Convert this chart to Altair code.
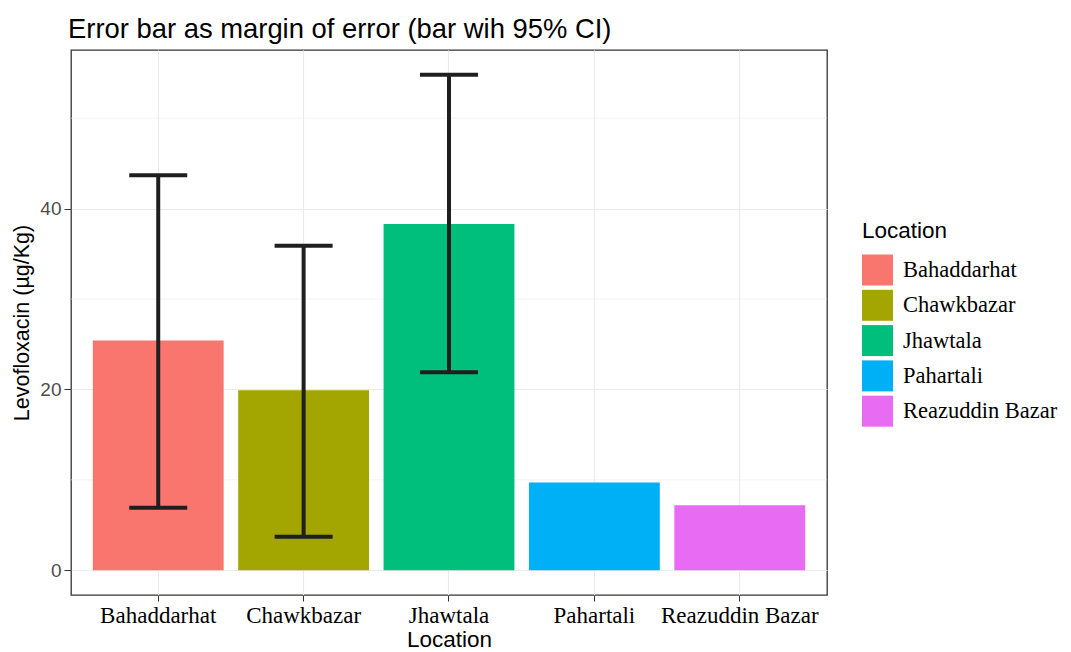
import altair as alt
import pandas as pd

locations = ["Bahaddarhat", "Chawkbazar", "Jhawtala", "Pahartali", "Reazuddin Bazar"]
means = [25.4, 19.9, 38.3, 9.7, 7.2]
err_locations = ["Bahaddarhat", "Chawkbazar", "Jhawtala"]
err_lower = [6.9, 3.7, 21.9]
err_upper = [43.7, 35.9, 54.8]
colors = ["#F8766D", "#A3A500", "#00BF7D", "#00B0F6", "#E76BF3"]
minor_grid = [10, 30, 50]
major_ticks = [0, 20, 40]

bars_df = pd.DataFrame({"Location": locations, "value": means})
err_df = pd.DataFrame({"Location": err_locations, "lower": err_lower, "upper": err_upper})
minor_df = pd.DataFrame({"v": minor_grid})

SANS = "Liberation Sans"
SERIF = "Liberation Serif"

x_scale = alt.Scale(domain=locations, paddingInner=0.1, paddingOuter=0.15)
y_scale = alt.Scale(domain=[-2.74, 57.54], nice=False, zero=False)

x_axis = alt.Axis(
    title="Location", labelAngle=0, labelFont=SERIF, labelFontSize=23,
    labelColor="black", labelPadding=3, tickColor="#333333", tickSize=6,
    domain=False, grid=True, gridColor="#EBEBEB", gridWidth=1.1,
    titleFont=SANS, titleFontSize=22.5, titleFontWeight="normal",
    titleColor="black", titlePadding=1,
)
y_axis = alt.Axis(
    title="Levofloxacin (µg/Kg)", values=major_ticks, labelFont=SANS,
    labelFontSize=19, labelColor="#4D4D4D", labelPadding=3,
    tickColor="#333333", tickSize=7, domain=False, grid=True,
    gridColor="#EBEBEB", gridWidth=1.1, titleFont=SANS, titleFontSize=21.5,
    titleFontWeight="normal", titleColor="black", titlePadding=6,
)

minor = alt.Chart(minor_df).mark_rule(color="#EBEBEB", strokeWidth=0.6).encode(
    y=alt.Y("v:Q", scale=y_scale, axis=y_axis)
)

bars = alt.Chart(bars_df).mark_bar().encode(
    x=alt.X("Location:N", scale=x_scale, axis=x_axis),
    y=alt.Y("value:Q", scale=y_scale, axis=y_axis),
    color=alt.Color(
        "Location:N",
        scale=alt.Scale(domain=locations, range=colors),
        legend=alt.Legend(
            title="Location", orient="none", legendX=791, legendY=170,
            symbolType="square", symbolSize=961, symbolStrokeWidth=0,
            symbolOpacity=1, rowPadding=4.3, labelFont=SERIF,
            labelFontSize=22.5, labelColor="black", labelOffset=10,
            titleFont=SANS, titleFontSize=22.5, titleFontWeight="normal",
            titleColor="black", titlePadding=12,
        ),
    ),
)

err_color = "#1F1F1F"
rule = alt.Chart(err_df).mark_rule(color=err_color, strokeWidth=4).encode(
    x=alt.X("Location:N", scale=x_scale),
    y=alt.Y("lower:Q", scale=y_scale),
    y2="upper:Q",
)
cap_lo = alt.Chart(err_df).mark_tick(color=err_color, thickness=4, size=58, opacity=1).encode(
    x=alt.X("Location:N", scale=x_scale),
    y=alt.Y("lower:Q", scale=y_scale),
)
cap_hi = alt.Chart(err_df).mark_tick(color=err_color, thickness=4, size=58, opacity=1).encode(
    x=alt.X("Location:N", scale=x_scale),
    y=alt.Y("upper:Q", scale=y_scale),
)

chart = alt.layer(minor, bars, rule, cap_lo, cap_hi).properties(
    width=756,
    height=545,
    autosize=alt.AutoSizeParams(type="none"),
    padding={"left": 63, "top": 42, "right": 232, "bottom": 57},
    title=alt.TitleParams(
        "Error bar as margin of error (bar wih 95% CI)", anchor="start",
        frame="group", font=SANS, fontSize=27.4, fontWeight="normal",
        color="black", offset=7, dx=-3,
    ),
).configure(
    background="white",
    view=alt.ViewConfig(stroke="#333333", strokeWidth=1.3),
)

chart.save("out.html", embed_options={"renderer": "svg", "actions": False})
